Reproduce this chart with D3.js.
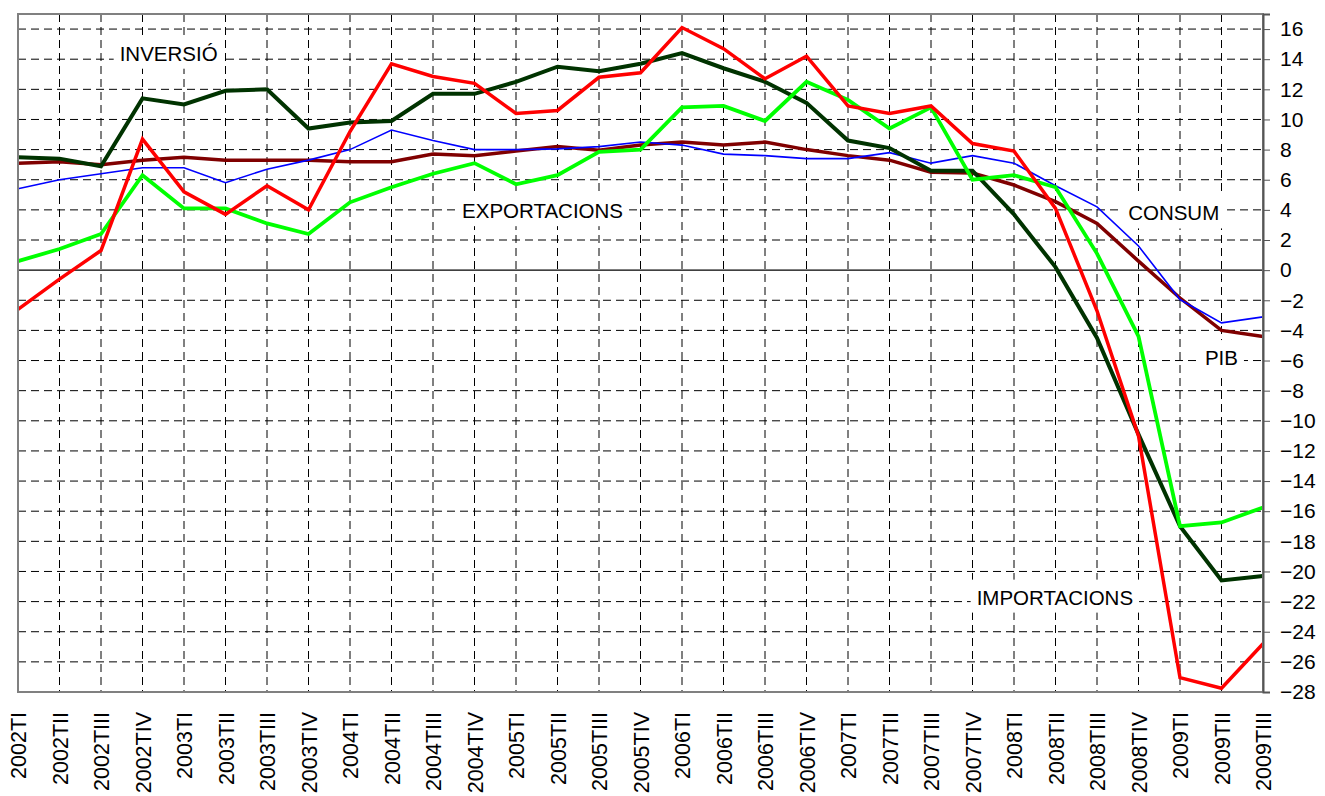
<!DOCTYPE html>
<html>
<head>
<meta charset="utf-8">
<script src="https://cdn.jsdelivr.net/npm/d3@7.9.0/dist/d3.min.js"></script>
<style>
  body { margin: 0; background: #fff; }
  svg text { font-family: "Liberation Sans", Arial, sans-serif; fill: #000; }
</style>
</head>
<body>
<div id="chart"></div>
<script>
// quarters on the x axis
const quarters = [
  '2002TI', '2002TII', '2002TIII', '2002TIV',
  '2003TI', '2003TII', '2003TIII', '2003TIV',
  '2004TI', '2004TII', '2004TIII', '2004TIV',
  '2005TI', '2005TII', '2005TIII', '2005TIV',
  '2006TI', '2006TII', '2006TIII', '2006TIV',
  '2007TI', '2007TII', '2007TIII', '2007TIV',
  '2008TI', '2008TII', '2008TIII', '2008TIV',
  '2009TI', '2009TII', '2009TIII'
];

// values (% interannual)
const inversio = [7.5, 7.4, 6.9, 11.4, 11.0, 11.9, 12.0, 9.4, 9.8, 9.9, 11.7,
  11.7, 12.5, 13.5, 13.2, 13.7, 14.4, 13.4, 12.5, 11.1, 8.6,
  8.1, 6.6, 6.6, 3.7, 0.2, -4.5, -10.9, -17.0, -20.6, -20.3];
const importacions = [-2.6, -0.6, 1.3, 8.7, 5.2, 3.7, 5.6, 4.0, 9.2, 13.7, 12.85,
  12.4, 10.4, 10.6, 12.8, 13.1, 16.1, 14.7, 12.7, 14.2, 10.9,
  10.4, 10.9, 8.4, 7.9, 4.1, -2.7, -11.0, -27.05, -27.75, -24.8];
const exportacions = [0.6, 1.4, 2.4, 6.3, 4.1, 4.1, 3.1, 2.4, 4.5, 5.5, 6.4,
  7.1, 5.7, 6.3, 7.85, 8.0, 10.8, 10.9, 9.9, 12.5, 11.3,
  9.4, 10.8, 6.0, 6.3, 5.5, 1.1, -4.4, -17.0, -16.75, -15.75];
const consum = [5.4, 6.0, 6.4, 6.8, 6.8, 5.8, 6.7, 7.3, 8.0, 9.3, 8.6,
  8.0, 8.0, 8.05, 8.2, 8.5, 8.3, 7.7, 7.6, 7.4, 7.4,
  7.8, 7.1, 7.6, 7.1, 5.6, 4.2, 1.6, -1.95, -3.5, -3.1];
const pib = [7.1, 7.2, 7.0, 7.3, 7.5, 7.3, 7.3, 7.3, 7.2, 7.2, 7.7,
  7.6, 7.9, 8.2, 7.95, 8.3, 8.5, 8.3, 8.5, 8.0, 7.6,
  7.3, 6.5, 6.45, 5.65, 4.55, 3.1, 0.6, -1.85, -4.0, -4.4];

const yTicks = d3.range(-28, 17, 2);

// series, in drawing order
const series = [
  { name: 'PIB', values: pib, color: '#800000', width: 3.5 },
  { name: 'CONSUM', values: consum, color: '#0000ff', width: 1.6 },
  { name: 'INVERSIÓ', values: inversio, color: '#003300', width: 4 },
  { name: 'EXPORTACIONS', values: exportacions, color: '#00ff00', width: 3.8 },
  { name: 'IMPORTACIONS', values: importacions, color: '#ff0000', width: 3.5 }
];

// text labels placed in the plot: [text, quarter index, value at baseline]
const labels = [
  ['INVERSIÓ', 2.45, 13.9],
  ['EXPORTACIONS', 10.7, 3.45],
  ['CONSUM', 26.75, 3.3],
  ['PIB', 28.6, -6.3],
  ['IMPORTACIONS', 23.1, -22.2]
];

const width = 1325;
const height = 796;
const margin = { top: 14, right: 62, bottom: 104, left: 18 };
const plot = {
  left: margin.left,
  right: width - margin.right,
  top: margin.top,
  bottom: height - margin.bottom
};

const svg = d3.select('#chart')
  .append('svg')
  .attr('width', width)
  .attr('height', height);

const x = d3.scalePoint()
  .domain(quarters)
  .range([plot.left, plot.right])
  .padding(0);

const y = d3.scaleLinear()
  .domain([-28, 17])
  .range([plot.bottom, plot.top]);

// index -> pixel for the text labels
const xi = d3.scaleLinear().domain([0, quarters.length - 1]).range([plot.left, plot.right]);

// gridlines
const grid = svg.append('g').attr('class', 'grid');
grid.selectAll('line.h')
  .data(yTicks.filter(d => d !== 0 && d !== -28))
  .join('line')
  .attr('class', 'h')
  .attr('x1', plot.left).attr('x2', plot.right)
  .attr('y1', d => y(d)).attr('y2', d => y(d))
  .attr('stroke', '#000')
  .attr('stroke-width', 1)
  .attr('stroke-dasharray', '8,5');

grid.selectAll('line.v')
  .data(quarters.slice(1, -1))
  .join('line')
  .attr('class', 'v')
  .attr('x1', d => x(d)).attr('x2', d => x(d))
  .attr('y1', plot.top).attr('y2', plot.bottom)
  .attr('stroke', '#000')
  .attr('stroke-width', 1)
  .attr('stroke-dasharray', '8,5');

// zero line
svg.append('line')
  .attr('x1', plot.left).attr('x2', plot.right)
  .attr('y1', y(0)).attr('y2', y(0))
  .attr('stroke', '#000')
  .attr('stroke-width', 1.2);

// labels with white boxes
const labelG = svg.append('g').attr('class', 'labels');
labels.forEach(([txt, i, v]) => {
  const t = labelG.append('text')
    .attr('x', xi(i))
    .attr('y', y(v))
    .attr('font-size', 20.5)
    .text(txt);
  const bb = t.node().getBBox();
  labelG.insert('rect', 'text')
    .attr('x', bb.x - 6)
    .attr('y', bb.y - 6)
    .attr('width', bb.width + 12)
    .attr('height', bb.height + 10)
    .attr('fill', '#fff');
});

// data lines
const line = d3.line()
  .x((d, i) => x(quarters[i]))
  .y(d => y(d));

svg.append('g')
  .attr('class', 'lines')
  .selectAll('path')
  .data(series)
  .join('path')
  .attr('d', d => line(d.values))
  .attr('fill', 'none')
  .attr('stroke', d => d.color)
  .attr('stroke-width', d => d.width)
  .attr('stroke-linejoin', 'miter');

// plot border
svg.append('rect')
  .attr('x', plot.left)
  .attr('y', plot.top)
  .attr('width', plot.right - plot.left)
  .attr('height', plot.bottom - plot.top)
  .attr('fill', 'none')
  .attr('stroke', '#808080')
  .attr('stroke-width', 2);

// right axis
const yAxis = d3.axisRight(y)
  .tickValues(yTicks)
  .tickSize(7)
  .tickPadding(10);
const gy = svg.append('g')
  .attr('transform', `translate(${plot.right}, 0)`)
  .call(yAxis);
gy.select('.domain').attr('stroke', '#555').attr('stroke-width', 2);
gy.selectAll('.tick line').attr('stroke', '#555');
gy.selectAll('.tick text')
  .attr('font-size', 21)
  .attr('font-family', '"Liberation Sans", Arial, sans-serif')
  .attr('fill', '#000');

// bottom axis with rotated labels
const xAxis = d3.axisBottom(x).tickSize(0);
const gx = svg.append('g')
  .attr('transform', `translate(0, ${plot.bottom})`)
  .call(xAxis);
gx.select('.domain').remove();
gx.selectAll('.tick text')
  .attr('transform', 'rotate(-90)')
  .attr('text-anchor', 'end')
  .attr('x', -20)
  .attr('y', 0)
  .attr('dy', '0.36em')
  .attr('font-size', 21.5)
  .attr('font-family', '"Liberation Sans", Arial, sans-serif')
  .attr('fill', '#000');
</script>
</body>
</html>
